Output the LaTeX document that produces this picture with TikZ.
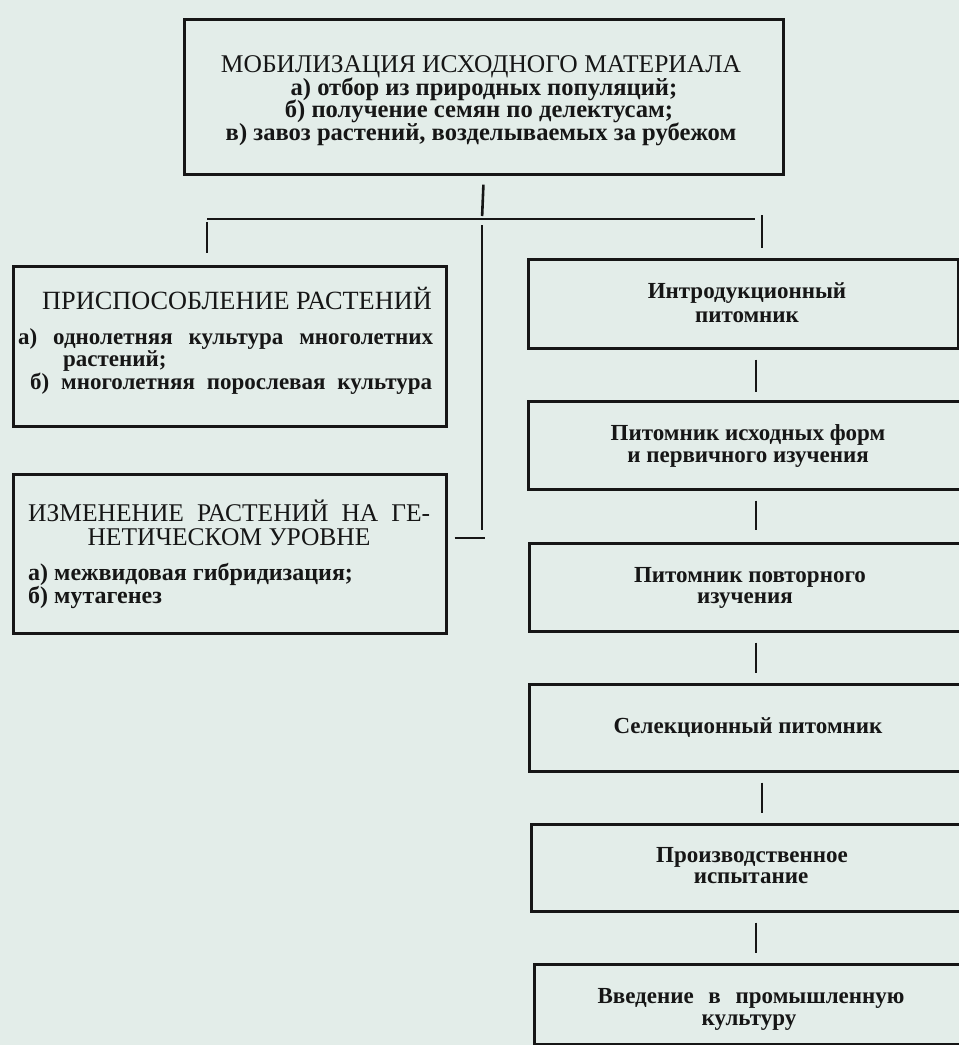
\documentclass[tikz,border=0pt]{standalone}
\usepackage{fontspec}
\setmainfont{Liberation Serif}
\definecolor{paper}{RGB}{227,237,233}
\definecolor{ink}{RGB}{22,22,22}
\tikzset{
  box/.style={draw=ink, line width=2.6pt, anchor=north west, inner sep=0pt},
  conn/.style={draw=ink, line width=2.6pt},
  ttl/.style={font=\fontsize{25.5}{25.5}\selectfont, text=ink, inner sep=0pt, anchor=base},
  lst/.style={font=\bfseries\fontsize{24}{24}\selectfont, text=ink, inner sep=0pt, anchor=base},
  lstw/.style={lst, anchor=base west},
  rt/.style={font=\bfseries\fontsize{23}{23}\selectfont, text=ink, inner sep=0pt, anchor=base},
}
\begin{document}
\begin{tikzpicture}[x=1pt,y=-1pt]
\useasboundingbox (0,0) rectangle (959,1045);
\fill[paper] (0,0) rectangle (959,1045);
\clip (0,0) rectangle (959,1045);

% boxes
\node[box, minimum width=599pt, minimum height=155pt] (mob) at (183,18) {};
\node[box, minimum width=433pt, minimum height=160pt] (pris) at (12,265) {};
\node[box, minimum width=433pt, minimum height=159pt] (izm) at (12,473) {};
\node[box, minimum width=430pt, minimum height=89pt] (intro) at (527,258) {};
\node[box, minimum width=445pt, minimum height=88pt] (pit1) at (527,400) {};
\node[box, minimum width=445pt, minimum height=88pt] (pit2) at (528,542) {};
\node[box, minimum width=445pt, minimum height=87pt] (sel) at (528,683) {};
\node[box, minimum width=445pt, minimum height=87pt] (proizv) at (530,823) {};
\node[box, minimum width=445pt, minimum height=80pt] (vved) at (533,963) {};

% top box text
\node[ttl] (mobT) at (481,72) {МОБИЛИЗАЦИЯ ИСХОДНОГО МАТЕРИАЛА};
\node[lst, font=\bfseries\fontsize{24.6}{24.6}\selectfont] (mobA) at (484,95) {а) отбор из природных популяций;};
\node[lst, font=\bfseries\fontsize{24.6}{24.6}\selectfont] (mobB) at (479,117.5) {б) получение семян по делектусам;};
\node[lst, font=\bfseries\fontsize{24.6}{24.6}\selectfont] (mobC) at (481,140) {в) завоз растений, возделываемых за рубежом};

% pris text
\node[ttl, font=\fontsize{26.3}{26.3}\selectfont] (prisT) at (237,309) {ПРИСПОСОБЛЕНИЕ РАСТЕНИЙ};
\node[lstw, font=\bfseries\fontsize{23}{23}\selectfont] (prisA) at (18,344) {\makebox[415pt][s]{а) однолетняя культура многолетних}};
\node[lstw, font=\bfseries\fontsize{23}{23}\selectfont] (prisA2) at (63,366) {растений;};
\node[lstw, font=\bfseries\fontsize{23}{23}\selectfont] (prisB) at (30,389) {\makebox[402pt][s]{б) многолетняя порослевая культура}};

% izm text
\node[ttl, anchor=base west] (izmT1) at (28,521) {\makebox[402pt][s]{ИЗМЕНЕНИЕ РАСТЕНИЙ НА ГЕ-}};
\node[ttl] (izmT2) at (229,545) {НЕТИЧЕСКОМ УРОВНЕ};
\node[lstw] (izmA) at (28,580) {а) межвидовая гибридизация;};
\node[lstw] (izmB) at (28,603) {б) мутагенез};

% right column text
\node[rt] (introA) at (747,298) {Интродукционный};
\node[rt] (introB) at (747,322) {питомник};
\node[rt] (pit1A) at (748,440) {Питомник исходных форм};
\node[rt] (pit1B) at (748,462) {и первичного изучения};
\node[rt] (pit2A) at (750,582) {Питомник повторного};
\node[rt] (pit2B) at (745,603) {изучения};
\node[rt] (selA) at (748,733) {Селекционный питомник};
\node[rt] (prA) at (752,862) {Производственное};
\node[rt] (prB) at (751,883) {испытание};
\node[rt] (vvA) at (751,1003) {\makebox[307pt][s]{Введение в промышленную}};
\node[rt] (vvB) at (749,1025) {культуру};

% connectors
\coordinate (hub) at (482,219);
\coordinate (hubL) at (207,219);
\coordinate (hubR) at (755,219);
\coordinate (introTop) at (762,215);
\coordinate (spineEnd) at (482,530);
\coordinate (stub) at (485,538);
\coordinate (colR) at (756,0);
\coordinate (colS) at (762,0);

\draw[conn, shorten <=9pt, shorten >=3pt] (mob.south) -- (hub);
\draw[conn] (hubL) -- (hubR);
\draw[conn, shorten <=3pt, shorten >=12pt] (hubL) -- (hubL |- pris.north);
\draw[conn, shorten >=10pt] (introTop) -- (introTop |- intro.north);
\draw[conn, shorten <=6pt] (hub) -- (spineEnd);
\draw[conn, shorten <=7pt] (izm.east |- stub) -- (stub);

\draw[conn, shorten <=10pt, shorten >=8pt] (intro.south -| colR) -- (pit1.north -| colR);
\draw[conn, shorten <=10pt, shorten >=12pt] (pit1.south -| colR) -- (pit2.north -| colR);
\draw[conn, shorten <=10pt, shorten >=10pt] (pit2.south -| colR) -- (sel.north -| colR);
\draw[conn, shorten <=10pt, shorten >=10pt] (sel.south -| colS) -- (proizv.north -| colS);
\draw[conn, shorten <=10pt, shorten >=10pt] (proizv.south -| colR) -- (vved.north -| colR);
\end{tikzpicture}
\end{document}
